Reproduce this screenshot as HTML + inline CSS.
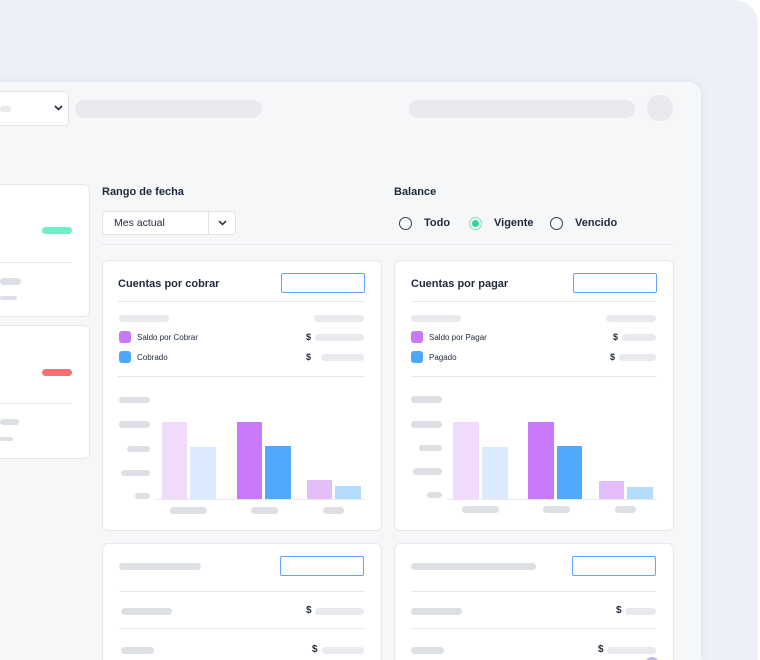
<!DOCTYPE html>
<html style="width:760px;height:660px;overflow:hidden"><head><meta charset="utf-8"><style>
*{margin:0;padding:0;box-sizing:border-box}
body{width:760px;height:660px;background:#fff;position:relative;overflow:hidden;font-family:"Liberation Sans",sans-serif;color:#1e293b}
.a{position:absolute}
.p{position:absolute;background:#dcdfe4;border-radius:4px}
.pl{position:absolute;background:#e8eaee;border-radius:4px}
.card{position:absolute;background:#fff;border:1px solid #e6e8ec;border-radius:6px}
.hl{position:absolute;height:1px;background:#e5e7eb}
.t{position:absolute;white-space:nowrap}
.rad{position:absolute;width:13px;height:13px;border:1.6px solid #334155;border-radius:50%}
.inp{position:absolute;border:1.3px solid #60a5fa;border-radius:2px;background:#fff}
.bar{position:absolute}
</style></head><body>
<div class="a" style="left:0;top:0;width:758px;height:660px;background:#eef0f8;border-radius:0 24px 0 0"></div>
<div class="a" style="left:-20px;top:82px;width:721px;height:578px;background:#f6f7f9;border-radius:12px 12px 0 0;box-shadow:0 0 8px rgba(180,185,210,.25)"></div>

<div class="a" style="left:-10px;top:91px;width:79px;height:35px;background:#fff;border:1px solid #e2e4e8;border-radius:4px"></div>
<div class="pl" style="left:0;top:106px;width:11px;height:6px"></div>
<svg class="a" style="left:54px;top:105px" width="9" height="6"><path d="M1 1l3.5 3.5L8 1" stroke="#1e293b" stroke-width="1.6" fill="none"/></svg>
<div class="pl" style="left:75px;top:100px;width:187px;height:18px;border-radius:9px"></div>
<div class="pl" style="left:409px;top:100px;width:226px;height:18px;border-radius:9px"></div>
<div class="a" style="left:647px;top:95px;width:26px;height:26px;border-radius:50%;background:#e8e9ec"></div>

<div class="card" style="left:-10px;top:184px;width:100px;height:133px"></div>
<div class="a" style="left:42px;top:227px;width:30px;height:7px;border-radius:4px;background:#6ff0c3"></div>
<div class="hl" style="left:0;top:262px;width:72px"></div>
<div class="p" style="left:0;top:278px;width:21px;height:7px"></div>
<div class="p" style="left:0;top:296px;width:17px;height:4px"></div>
<div class="card" style="left:-10px;top:325px;width:100px;height:134px"></div>
<div class="a" style="left:42px;top:369px;width:30px;height:7px;border-radius:4px;background:#f87171"></div>
<div class="hl" style="left:0;top:403px;width:72px"></div>
<div class="p" style="left:0;top:419px;width:19px;height:6px"></div>
<div class="p" style="left:0;top:437px;width:13px;height:4px"></div>

<div class="t" style="left:102px;top:186px;font-size:11px;font-weight:bold;color:#1e293b">Rango de fecha</div>
<div class="a" style="left:102px;top:211px;width:134px;height:24px;background:#fff;border:1px solid #e2e4e8;border-radius:4px"></div>
<div class="a" style="left:208px;top:211px;width:1px;height:24px;background:#e2e4e8"></div>
<div class="t" style="left:114px;top:217px;font-size:10.5px;color:#1e293b">Mes actual</div>
<svg class="a" style="left:218px;top:220px" width="9" height="6"><path d="M1 1l3.5 3.5L8 1" stroke="#1e293b" stroke-width="1.5" fill="none"/></svg>

<div class="t" style="left:394px;top:186px;font-size:11px;font-weight:bold">Balance</div>
<div class="rad" style="left:399px;top:217px"></div>
<div class="t" style="left:424px;top:217px;font-size:11px;font-weight:bold">Todo</div>
<div class="rad" style="left:469px;top:217px;border-color:#6ee7b7;border-width:1.3px"></div>
<div class="a" style="left:472px;top:220px;width:7px;height:7px;border-radius:50%;background:#34d399"></div>
<div class="t" style="left:494px;top:217px;font-size:11px;font-weight:bold">Vigente</div>
<div class="rad" style="left:550px;top:217px"></div>
<div class="t" style="left:575px;top:217px;font-size:11px;font-weight:bold">Vencido</div>
<div class="hl" style="left:102px;top:244px;width:571px"></div>

<div class="card" style="left:102px;top:260px;width:280px;height:271px"></div>
<div class="t" style="left:118px;top:278px;font-size:11px;font-weight:bold">Cuentas por cobrar</div>
<div class="inp" style="left:281px;top:273px;width:84px;height:20px"></div>
<div class="hl" style="left:118px;top:301px;width:247px"></div>
<div class="pl" style="left:119px;top:315px;width:50px;height:7px"></div>
<div class="pl" style="left:314px;top:315px;width:50px;height:7px"></div>
<div class="a" style="left:119px;top:331px;width:12px;height:12px;border-radius:3px;background:#c879fa"></div>
<div class="t" style="left:137px;top:333px;font-size:8px">Saldo por Cobrar</div>
<div class="t" style="left:306px;top:332px;font-size:9px;font-weight:bold">$</div>
<div class="pl" style="left:315px;top:334px;width:49px;height:7px"></div>
<div class="a" style="left:119px;top:351px;width:12px;height:12px;border-radius:3px;background:#4ba8fc"></div>
<div class="t" style="left:137px;top:353px;font-size:8px">Cobrado</div>
<div class="t" style="left:306px;top:352px;font-size:9px;font-weight:bold">$</div>
<div class="pl" style="left:321px;top:354px;width:43px;height:7px"></div>
<div class="hl" style="left:118px;top:376px;width:247px"></div>
<div class="p" style="left:119px;top:397px;width:31px;height:6px"></div>
<div class="p" style="left:119px;top:421px;width:31px;height:7px"></div>
<div class="p" style="left:127px;top:446px;width:23px;height:6px"></div>
<div class="p" style="left:121px;top:470px;width:29px;height:6px"></div>
<div class="p" style="left:135px;top:493px;width:15px;height:6px"></div>
<div class="hl" style="left:155px;top:499px;width:210px;background:#e8e9ee"></div>
<div class="bar" style="left:162px;top:422px;width:25px;height:77px;background:#f0dbfa"></div>
<div class="bar" style="left:190px;top:447px;width:26px;height:52px;background:#dbeafe"></div>
<div class="bar" style="left:237px;top:422px;width:25px;height:77px;background:#c879fa"></div>
<div class="bar" style="left:265px;top:446px;width:26px;height:53px;background:#4fa9ff"></div>
<div class="bar" style="left:307px;top:480px;width:25px;height:19px;background:#e3bdfa"></div>
<div class="bar" style="left:335px;top:486px;width:26px;height:13px;background:#b3dcfe"></div>
<div class="p" style="left:170px;top:507px;width:37px;height:7px"></div>
<div class="p" style="left:251px;top:507px;width:27px;height:7px"></div>
<div class="p" style="left:323px;top:507px;width:21px;height:7px"></div>

<div class="card" style="left:394px;top:260px;width:280px;height:271px"></div>
<div class="t" style="left:411px;top:278px;font-size:11px;font-weight:bold">Cuentas por pagar</div>
<div class="inp" style="left:573px;top:273px;width:84px;height:20px"></div>
<div class="hl" style="left:411px;top:301px;width:246px"></div>
<div class="pl" style="left:411px;top:315px;width:50px;height:7px"></div>
<div class="pl" style="left:606px;top:315px;width:50px;height:7px"></div>
<div class="a" style="left:411px;top:331px;width:12px;height:12px;border-radius:3px;background:#c879fa"></div>
<div class="t" style="left:429px;top:333px;font-size:8px">Saldo por Pagar</div>
<div class="t" style="left:613px;top:332px;font-size:9px;font-weight:bold">$</div>
<div class="pl" style="left:622px;top:334px;width:34px;height:7px"></div>
<div class="a" style="left:411px;top:351px;width:12px;height:12px;border-radius:3px;background:#4ba8fc"></div>
<div class="t" style="left:429px;top:353px;font-size:8px">Pagado</div>
<div class="t" style="left:610px;top:352px;font-size:9px;font-weight:bold">$</div>
<div class="pl" style="left:619px;top:354px;width:37px;height:7px"></div>
<div class="hl" style="left:411px;top:376px;width:246px"></div>
<div class="p" style="left:411px;top:396px;width:31px;height:7px"></div>
<div class="p" style="left:411px;top:421px;width:31px;height:7px"></div>
<div class="p" style="left:419px;top:445px;width:23px;height:6px"></div>
<div class="p" style="left:413px;top:468px;width:29px;height:7px"></div>
<div class="p" style="left:427px;top:492px;width:15px;height:6px"></div>
<div class="hl" style="left:447px;top:499px;width:210px;background:#e8e9ee"></div>
<div class="bar" style="left:453px;top:422px;width:26px;height:77px;background:#f0dbfa"></div>
<div class="bar" style="left:482px;top:447px;width:26px;height:52px;background:#dbeafe"></div>
<div class="bar" style="left:528px;top:422px;width:26px;height:77px;background:#c879fa"></div>
<div class="bar" style="left:557px;top:446px;width:25px;height:53px;background:#4fa9ff"></div>
<div class="bar" style="left:599px;top:481px;width:25px;height:18px;background:#e3bdfa"></div>
<div class="bar" style="left:627px;top:487px;width:26px;height:12px;background:#b3dcfe"></div>
<div class="p" style="left:462px;top:506px;width:37px;height:7px"></div>
<div class="p" style="left:543px;top:506px;width:27px;height:7px"></div>
<div class="p" style="left:615px;top:506px;width:21px;height:7px"></div>

<div class="card" style="left:102px;top:543px;width:280px;height:140px"></div>
<div class="p" style="left:119px;top:563px;width:82px;height:7px"></div>
<div class="inp" style="left:280px;top:556px;width:84px;height:20px"></div>
<div class="hl" style="left:119px;top:591px;width:246px"></div>
<div class="p" style="left:121px;top:608px;width:51px;height:7px"></div>
<div class="t" style="left:306px;top:605px;font-size:10px;font-weight:bold">$</div>
<div class="pl" style="left:315px;top:608px;width:49px;height:7px"></div>
<div class="hl" style="left:119px;top:628px;width:246px"></div>
<div class="p" style="left:121px;top:647px;width:33px;height:7px"></div>
<div class="t" style="left:312px;top:644px;font-size:10px;font-weight:bold">$</div>
<div class="pl" style="left:322px;top:647px;width:42px;height:7px"></div>

<div class="card" style="left:394px;top:543px;width:280px;height:140px"></div>
<div class="p" style="left:411px;top:563px;width:125px;height:7px"></div>
<div class="inp" style="left:572px;top:556px;width:84px;height:20px"></div>
<div class="hl" style="left:411px;top:591px;width:245px"></div>
<div class="p" style="left:411px;top:608px;width:51px;height:7px"></div>
<div class="t" style="left:616px;top:605px;font-size:10px;font-weight:bold">$</div>
<div class="pl" style="left:625px;top:608px;width:31px;height:7px"></div>
<div class="hl" style="left:411px;top:628px;width:245px"></div>
<div class="p" style="left:411px;top:647px;width:33px;height:7px"></div>
<div class="t" style="left:598px;top:644px;font-size:10px;font-weight:bold">$</div>
<div class="pl" style="left:607px;top:647px;width:49px;height:7px"></div>
<div class="a" style="left:645px;top:657px;width:14px;height:14px;border-radius:50%;background:#c4b5fd"></div>
</body></html>
